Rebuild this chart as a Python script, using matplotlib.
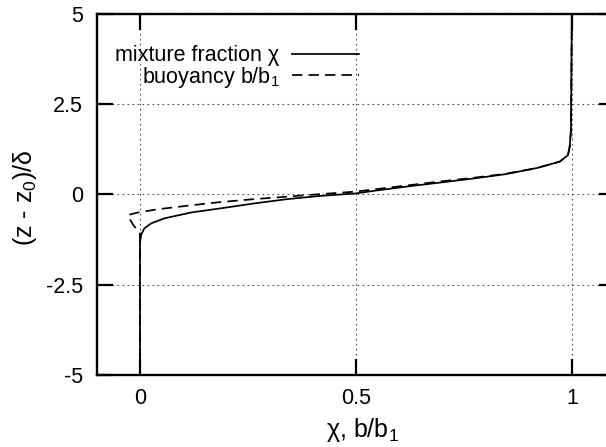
import matplotlib
matplotlib.use('Agg')
import matplotlib.pyplot as plt
import numpy as np

plt.rcParams['font.family'] = ['Liberation Sans', 'DejaVu Sans']
plt.rcParams['mathtext.fontset'] = 'custom'
plt.rcParams['mathtext.rm'] = 'Liberation Sans'
plt.rcParams['mathtext.it'] = 'Liberation Sans'

# mixture fraction profile
chi = [0.0, 0.0, 0.003, 0.010, 0.026, 0.057, 0.118, 0.195, 0.263, 0.340, 0.417, 0.50,
       0.541, 0.618, 0.695, 0.77, 0.845, 0.918, 0.972, 0.991, 0.995, 0.998, 1.0]
z_chi = [-5.0, -1.35, -1.12, -0.94, -0.80, -0.66, -0.50, -0.37, -0.25, -0.13, -0.04, 0.03,
         0.10, 0.22, 0.33, 0.44, 0.56, 0.73, 0.91, 1.09, 1.32, 1.79, 5.0]

# buoyancy profile
buoy = [0.0, 0.0, -0.015, -0.028, -0.025, -0.005, 0.041, 0.118, 0.186, 0.263, 0.340, 0.417,
        0.50, 0.541, 0.618, 0.695, 0.77, 0.845, 0.918, 0.972, 0.991, 0.995, 0.998, 1.0]
z_buoy = [-5.0, -1.07, -0.85, -0.60, -0.56, -0.50, -0.41, -0.30, -0.21, -0.13, -0.06, 0.01,
          0.08, 0.14, 0.25, 0.36, 0.46, 0.57, 0.73, 0.91, 1.09, 1.32, 1.79, 5.0]

xticks = [0, 0.5, 1]
xticklabels = ['0', '0.5', '1']
yticks = [-5, -2.5, 0, 2.5, 5]
yticklabels = ['-5', '-2.5', '0', '2.5', '5']

fig = plt.figure(figsize=(6.06, 4.47), dpi=100)
ax = fig.add_axes([0.1596, 0.1611, 0.8553, 0.8076])

ax.plot(chi, z_chi, color='black', lw=1.25, label='mixture fraction χ')
ax.plot(buoy, z_buoy, color='black', lw=1.25, dashes=(6, 3.5), label='buoyancy b/b$_1$')

ax.set_xlim(-0.1, 1.1)
ax.set_ylim(-5, 5)
ax.set_xticks(xticks)
ax.set_xticklabels(xticklabels)
ax.set_yticks(yticks)
ax.set_yticklabels(yticklabels)

ax.grid(True, color='0.3', lw=0.8, linestyle=(0, (1.5, 3)))
ax.tick_params(direction='in', length=11.5, width=1.6, top=True, right=True,
               labelsize=15.5, pad=9.5)
ax.tick_params(axis='y', pad=10)
for sp in ax.spines.values():
    sp.set_linewidth(1.7)

ax.set_xlabel('χ, b/b$_1$', fontsize=18)
ax.xaxis.set_label_coords(0.512, -0.152)
ax.xaxis.label.set_verticalalignment('center')
ax.set_ylabel('(z - z$_0$)/δ', fontsize=18)
ax.yaxis.set_label_coords(-0.138, 0.49)
ax.yaxis.label.set_verticalalignment('center')

leg = ax.legend(loc='upper right', bbox_to_anchor=(0.506, 0.914), frameon=False,
                markerfirst=False, fontsize=15.5, handlelength=3.1,
                handletextpad=0.6, labelspacing=-0.05, borderpad=0, borderaxespad=0)

fig.savefig('out.png', dpi=100)
